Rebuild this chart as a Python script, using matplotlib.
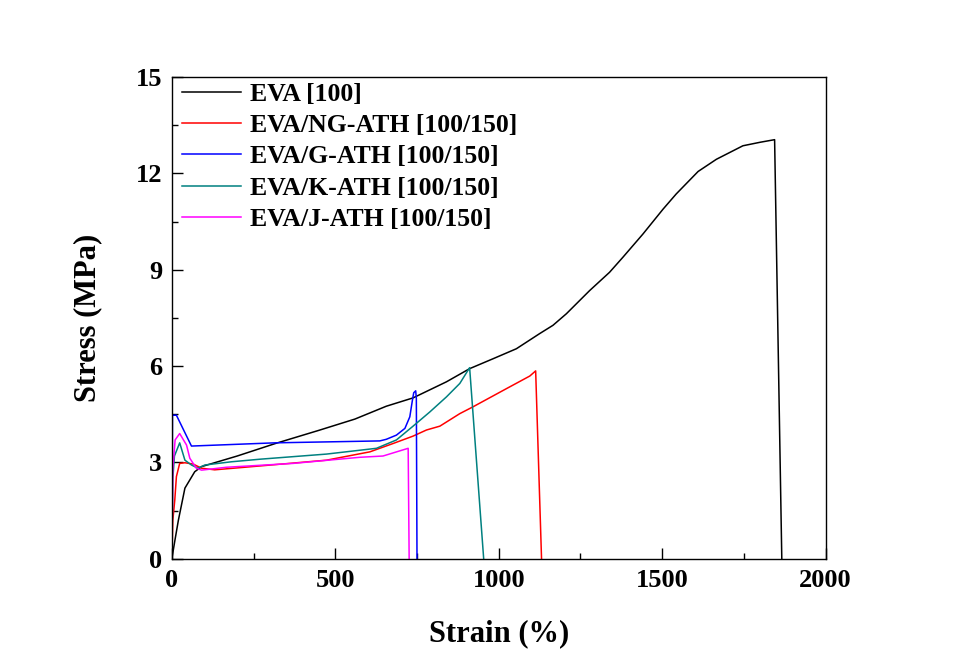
import matplotlib.pyplot as plt
from matplotlib.ticker import MultipleLocator

plt.rcParams['font.family'] = ['Liberation Serif', 'DejaVu Serif']
plt.rcParams['font.weight'] = 'bold'

# strain (%) / stress (MPa)
eva_x = [0, 9, 20, 40, 70, 91, 200, 320, 450, 560, 656, 738, 840, 911, 983,
         1054, 1125, 1166, 1207, 1278, 1339, 1380, 1441, 1503, 1543, 1610, 1666,
         1747, 1800, 1844, 1866]
eva_y = [0, 0.55, 1.2, 2.2, 2.71, 2.87, 3.2, 3.6, 4.0, 4.35, 4.75, 5.01,
         5.51, 5.92, 6.23, 6.54, 7.01, 7.27, 7.63, 8.35, 8.92, 9.39, 10.11, 10.89,
         11.36, 12.06, 12.44, 12.86, 12.97, 13.05, 0]

ng_x = [0, 3, 9, 14, 24, 40, 65, 91, 131, 269, 473, 606, 677, 738, 779, 820,
        881, 921, 1024, 1095, 1113, 1131]
ng_y = [0, 1.2, 1.83, 2.56, 2.97, 2.99, 2.95, 2.82, 2.77, 2.89, 3.07, 3.33,
        3.59, 3.82, 4.01, 4.13, 4.52, 4.73, 5.30, 5.69, 5.85, 0]

g_x = [0, 2, 14, 60, 315, 636, 656, 687, 713, 728, 736, 740, 746, 748, 750]
g_y = [0, 4.47, 4.47, 3.51, 3.61, 3.67, 3.72, 3.85, 4.06, 4.42, 4.94, 5.17,
       5.23, 5.0, 0]

k_x = [0, 3, 8, 24, 40, 60, 80, 101, 182, 269, 473, 626, 687, 738, 789, 840,
       881, 903, 911, 954]
k_y = [0, 2.5, 3.2, 3.61, 3.07, 2.92, 2.82, 2.92, 3.02, 3.10, 3.26, 3.44,
       3.70, 4.13, 4.57, 5.04, 5.46, 5.82, 5.95, 0]

j_x = [0, 3, 10, 24, 45, 55, 75, 91, 167, 371, 575, 646, 723, 726]
j_y = [0, 2.8, 3.7, 3.9, 3.54, 3.13, 2.82, 2.76, 2.85, 2.97, 3.16, 3.20, 3.44, 0]

series = [
    (eva_x, eva_y, 'black', 'EVA [100]'),
    (ng_x, ng_y, '#ff0000', 'EVA/NG-ATH [100/150]'),
    (g_x, g_y, '#0000ff', 'EVA/G-ATH [100/150]'),
    (k_x, k_y, '#008080', 'EVA/K-ATH [100/150]'),
    (j_x, j_y, '#ff00ff', 'EVA/J-ATH [100/150]'),
]

fig = plt.figure(figsize=(9.6, 6.7), dpi=100)
ax = fig.add_axes([0.179, 0.166, 0.681, 0.719])

for x, y, c, lab in series:
    ax.plot(x, y, color=c, linewidth=1.1, label=lab)

ax.set_xlim(0, 2000)
ax.set_ylim(0, 15)
ax.xaxis.set_major_locator(MultipleLocator(500))
ax.xaxis.set_minor_locator(MultipleLocator(250))
ax.yaxis.set_major_locator(MultipleLocator(3))
ax.yaxis.set_minor_locator(MultipleLocator(1.5))
ax.tick_params(which='both', direction='in', top=False, right=False, width=1.0)
ax.tick_params(which='major', length=8, labelsize=19, pad=7)
ax.tick_params(which='minor', length=4)
for s in ax.spines.values():
    s.set_linewidth(1.0)

ax.set_xlabel('Strain (%)', fontsize=22, fontweight='bold', labelpad=20)
ax.set_ylabel('Stress (MPa)', fontsize=22, fontweight='bold', labelpad=24)

ax.legend(loc='upper left', frameon=False, fontsize=18.5, handlelength=2.3,
          labelspacing=0.33, borderaxespad=0.0, handletextpad=0.35,
          bbox_to_anchor=(0.0, 1.01))

fig.savefig('out.png', dpi=100)
